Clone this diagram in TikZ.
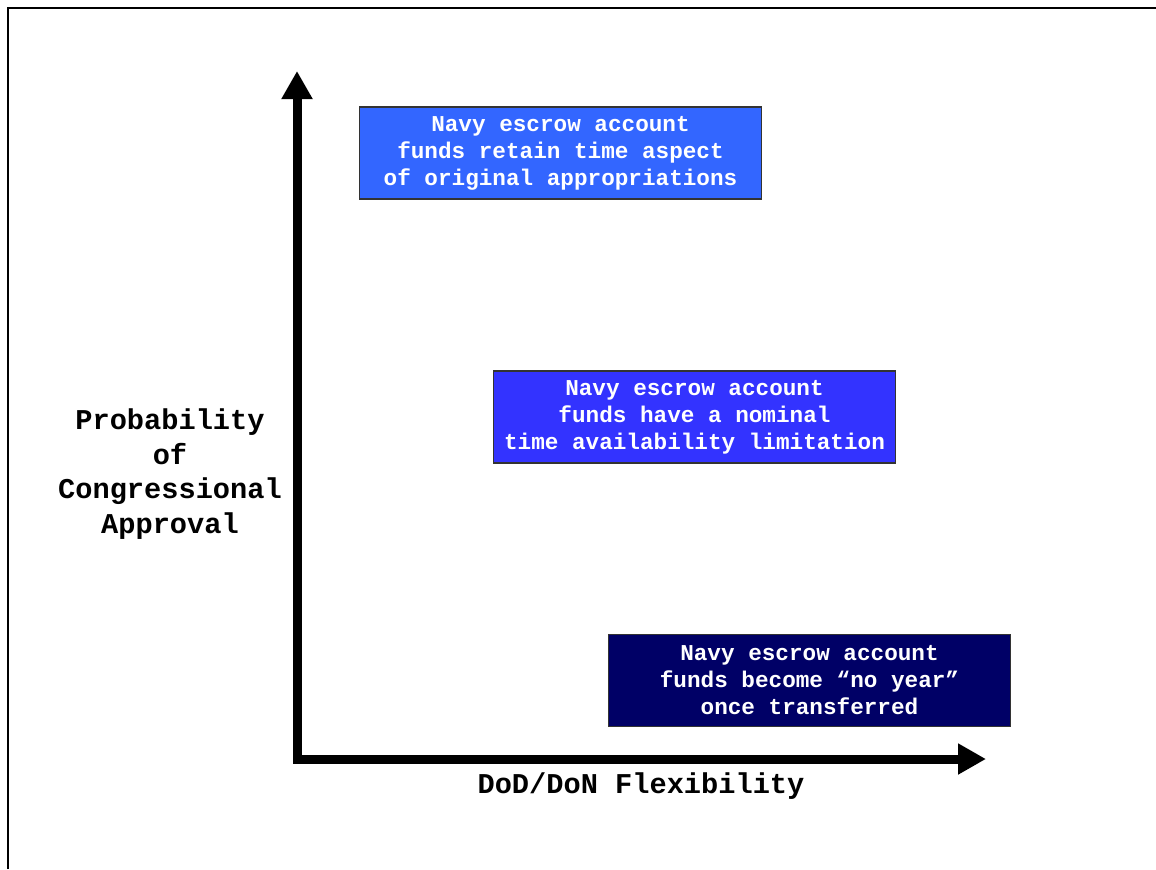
\documentclass[tikz,border=0pt]{standalone}
\usepackage{fontspec}
\setmainfont{Liberation Mono}
\usepackage{tikz}
\usetikzlibrary{arrows.meta}
\usepackage{xcolor}
\definecolor{lightblue}{HTML}{3366FF}
\definecolor{midblue}{HTML}{3333FF}
\definecolor{darknavy}{HTML}{000066}

\tikzset{
    fundbox/.style={draw=black!80, line width=0.9pt, text=white, align=center,
        minimum width=302pt, minimum height=69pt, inner sep=0pt,
        font=\bfseries\fontsize{17}{20.25}\selectfont},
    axislabel/.style={align=center, font=\bfseries\fontsize{21.5}{25.9}\selectfont},
    axisline/.style={line width=6.75pt, line join=miter,
        {Triangle[length=21pt, width=22pt]}-{Triangle[length=21pt, width=22pt]}}
}

\begin{document}
\begin{tikzpicture}[x=0.75pt, y=-0.75pt]
        \useasboundingbox (0,0) rectangle (1156,869);
        % Frame
        \draw[line width=1.5pt] (8,869) |- (1156,8);
        % Nodes
        \coordinate (O) at (297,759);
        \coordinate (Ytop) at (297,71);
        \coordinate (Xend) at (986,759);
        \node[fundbox, fill=lightblue] (B1) at (560.5,153) {Navy escrow account\\funds retain time aspect\\of original appropriations};
        \node[fundbox, fill=midblue] (B2) at (694.5,417) {Navy escrow account\\funds have a nominal\\time availability limitation};
        \node[fundbox, fill=darknavy] (B3) at (809.5,680.5) {Navy escrow account\\funds become “no year”\\once transferred};
        \node[axislabel] (YL) at (170,474) {Probability\\of\\Congressional\\Approval};
        \node[axislabel] (XL) at (641,786) {DoD/DoN Flexibility};
        % Arrows
        \draw[axisline] (Ytop) -- (O) -- (Xend);
    \end{tikzpicture}
\end{document}
